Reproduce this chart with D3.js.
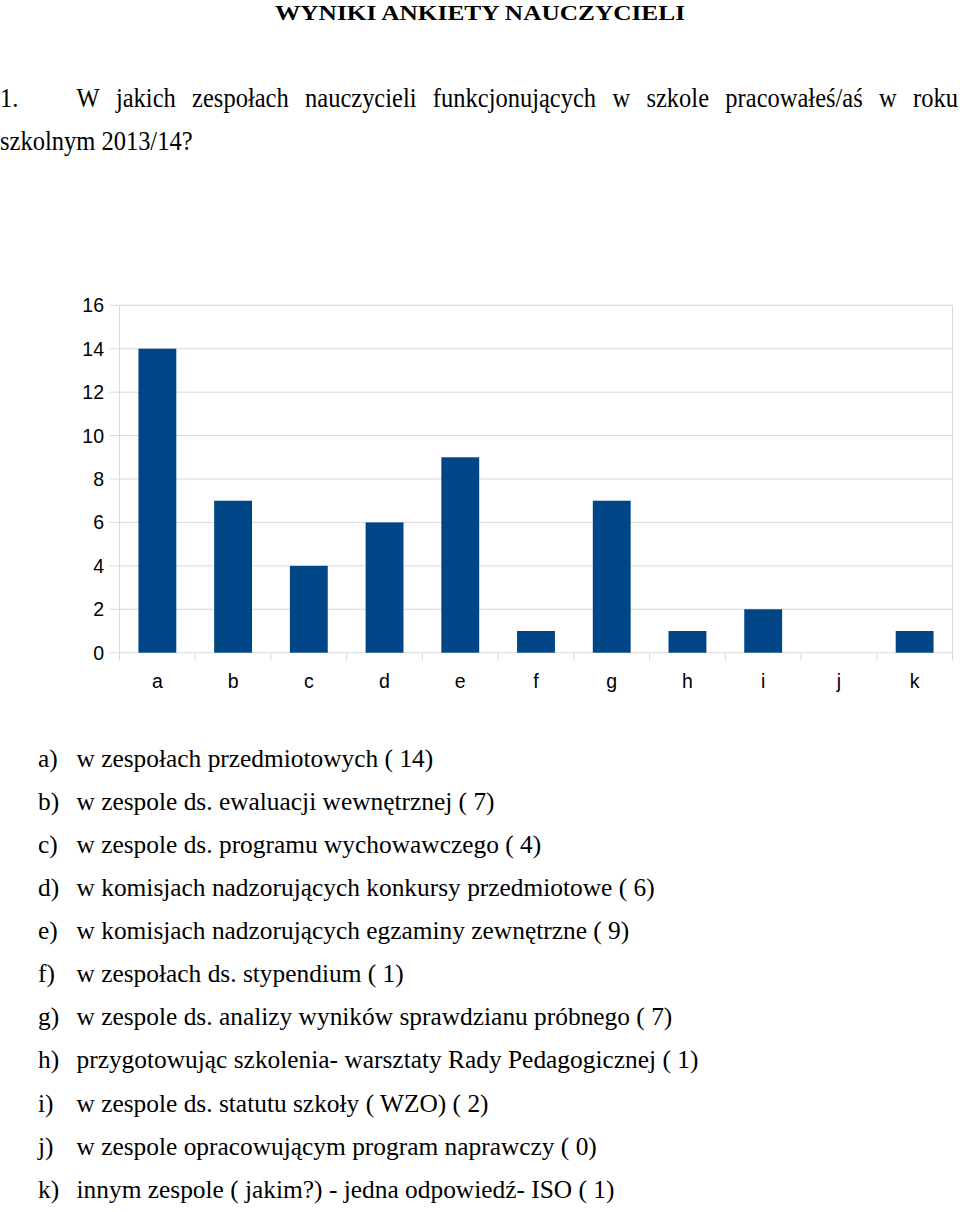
<!DOCTYPE html>
<html><head><meta charset="utf-8">
<script src="https://cdn.jsdelivr.net/npm/d3@7"></script>
<style>html,body{margin:0;padding:0;background:#fff;}svg{display:block;}</style>
</head><body>
<script>
const title = "WYNIKI ANKIETY NAUCZYCIELI";
const questionNumber = "1.";
const questionLine1 = "W jakich zespołach nauczycieli funkcjonujących w szkole pracowałeś/aś w roku";
const questionLine2 = "szkolnym 2013/14?";
const categories = ["a","b","c","d","e","f","g","h","i","j","k"];
const values = [14, 7, 4, 6, 9, 1, 7, 1, 2, 0, 1];
const yTicks = [0, 2, 4, 6, 8, 10, 12, 14, 16];
const answers = [
  "w zespołach przedmiotowych ( 14)",
  "w zespole ds. ewaluacji wewnętrznej ( 7)",
  "w zespole ds. programu wychowawczego ( 4)",
  "w komisjach nadzorujących konkursy przedmiotowe ( 6)",
  "w komisjach nadzorujących egzaminy zewnętrzne ( 9)",
  "w zespołach ds. stypendium ( 1)",
  "w zespole ds. analizy wyników sprawdzianu próbnego ( 7)",
  "przygotowując szkolenia- warsztaty Rady Pedagogicznej ( 1)",
  "w zespole ds. statutu szkoły ( WZO) ( 2)",
  "w zespole opracowującym program naprawczy ( 0)",
  "innym zespole ( jakim?) - jedna odpowiedź- ISO ( 1)"
];

(function () {
const W = 960, H = 1212;
const svg = d3.select("body").append("svg").attr("width", W).attr("height", H);
const serif = "'Liberation Serif','Times New Roman',serif";
const sans = "'Liberation Sans',Arial,sans-serif";

// Title
svg.append("text").attr("x", 480).attr("y", 20).attr("text-anchor", "middle")
  .attr("font-family", serif).attr("font-weight", "bold").attr("font-size", 22)
  .attr("textLength", 410).attr("lengthAdjust", "spacingAndGlyphs")
  .text(title);

// Question (justified)
const qSize = 24.5;
const q1 = svg.append("g").attr("transform", "translate(0,106.5) scale(1,1.1)")
  .attr("font-family", serif).attr("font-size", qSize);
q1.append("text").attr("x", 0).attr("y", 0).text(questionNumber);
const words = questionLine1.split(" ");
const wNodes = words.map(w => q1.append("text").attr("y", 0).text(w));
const widths = wNodes.map(n => n.node().getComputedTextLength());
const startX = 76.5, endX = 958;
const gap = (endX - startX - d3.sum(widths)) / (words.length - 1);
let cx = startX;
wNodes.forEach((n, i) => { n.attr("x", cx); cx += widths[i] + gap; });
svg.append("g").attr("transform", "translate(0,150) scale(1,1.1)")
  .attr("font-family", serif).attr("font-size", qSize)
  .append("text").attr("x", 0).attr("y", 0).text(questionLine2);

// Chart
const pLeft = 119.5, pRight = 952.5, pTop = 305.3, pBottom = 652.7;
const x = d3.scaleBand().domain(categories).range([pLeft, pRight]).paddingInner(0.5).paddingOuter(0.25);
const y = d3.scaleLinear().domain([0, 16]).range([pBottom, pTop]);
const grid = "#d9d9d9";

svg.append("g").selectAll("line").data(yTicks).join("line")
  .attr("x1", pLeft - 10).attr("x2", pRight).attr("y1", d => y(d)).attr("y2", d => y(d))
  .attr("stroke", grid).attr("stroke-width", 1);
svg.append("line").attr("x1", pLeft).attr("x2", pLeft).attr("y1", pTop).attr("y2", pBottom + 8).attr("stroke", grid);
svg.append("line").attr("x1", pRight).attr("x2", pRight).attr("y1", pTop).attr("y2", pBottom + 8).attr("stroke", grid);
const step = x.step();
svg.append("g").selectAll("line").data(d3.range(1, categories.length)).join("line")
  .attr("x1", i => pLeft + i * step).attr("x2", i => pLeft + i * step)
  .attr("y1", pBottom).attr("y2", pBottom + 8).attr("stroke", grid);

svg.append("g").selectAll("rect").data(values).join("rect")
  .attr("x", (d, i) => x(categories[i])).attr("width", x.bandwidth())
  .attr("y", d => y(d)).attr("height", d => pBottom - y(d))
  .attr("fill", "#004586");

svg.append("g").selectAll("text").data(yTicks).join("text")
  .attr("x", 104).attr("y", d => y(d) + 7).attr("text-anchor", "end")
  .attr("font-family", sans).attr("font-size", 19.5).attr("fill", "#000").text(d => d);
svg.append("g").selectAll("text").data(categories).join("text")
  .attr("x", d => x(d) + x.bandwidth() / 2).attr("y", 688).attr("text-anchor", "middle")
  .attr("font-family", sans).attr("font-size", 19.5).attr("fill", "#000").text(d => d);

const lg = svg.append("g").attr("font-family", serif).attr("font-size", 25.4);
answers.forEach((a, i) => {
  const yy = 766.7 + i * 43.1;
  lg.append("text").attr("x", 38).attr("y", yy).text(categories[i] + ")");
  lg.append("text").attr("x", 76.5).attr("y", yy).text(a);
});
})();
</script>
</body></html>
